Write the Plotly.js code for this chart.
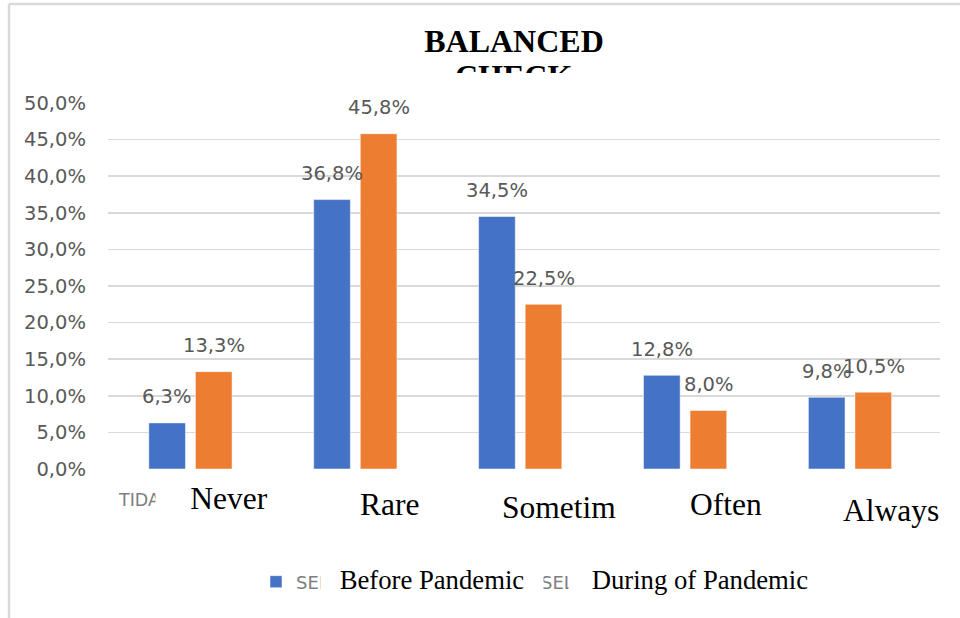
<!DOCTYPE html>
<html><head><meta charset="utf-8">
<script src="https://cdn.plot.ly/plotly-3.0.1.min.js"></script>
<style>html,body{margin:0;padding:0;background:#fff}#chart{width:960px;height:618px}</style>
</head><body><div id="chart"></div>
<script>
// ---- data ----
const categories = ['Never', 'Rare', 'Sometim', 'Often', 'Always'];
const beforeValues = [6.3, 36.8, 34.5, 12.8, 9.8];
const duringValues = [13.3, 45.8, 22.5, 8.0, 10.5];
const seriesNames = ['Before Pandemic', 'During of Pandemic'];
const hiddenSeriesNames = ['SEBELUM PANDEMI', 'SELAMA PANDEMI'];
const hiddenFirstLabel = 'TIDAK PERNAH';
const titleLines = ['BALANCED', 'CHECK'];

// ---- styling ----
const BLUE = '#4472c4', ORANGE = '#ed7d31', GRID = '#d9d9d9', GREY = '#595959';
const SANS = 'DejaVu Sans, sans-serif';
const SERIF = 'Liberation Serif, Times New Roman, serif';
const catLabelShift = [[39, -29.5], [34, -35.5], [39, -38.5], [41, -35.5], [41, -41.5]];
const catBoxWidth = [146, 0, 0, 0, 0];

const fmt = v => v.toFixed(1).replace('.', ',') + '%';

const traces = [
  {type: 'bar', x: categories, y: beforeValues, name: hiddenSeriesNames[0],
   marker: {color: BLUE, line: {color: 'rgba(255,255,255,0.5)', width: 1}}, hoverinfo: 'skip'},
  {type: 'bar', x: categories, y: duringValues, name: hiddenSeriesNames[1],
   marker: {color: ORANGE, line: {color: 'rgba(255,255,255,0.5)', width: 1}}, hoverinfo: 'skip'}
];

const annotations = [];
// data labels
[beforeValues, duringValues].forEach((vals, s) => {
  vals.forEach((v, i) => {
    annotations.push({xref: 'x', yref: 'y', x: categories[i], y: v, text: fmt(v),
      showarrow: false, xanchor: 'center', yanchor: 'middle', xshift: s === 0 ? -23.5 : 23.5, yshift: 26,
      font: {family: SANS, size: 19.5, color: GREY}});
  });
});
// hidden original label fragment
annotations.push({xref: 'paper', yref: 'paper', x: (116 - 108) / 832, y: 0, xanchor: 'left', yanchor: 'middle',
  yshift: -31, showarrow: false, text: hiddenFirstLabel, font: {family: SANS, size: 17.5, color: '#7f7f7f'}});
// category text boxes
categories.forEach((c, i) => {
  const a = {xref: 'x', yref: 'paper', x: c, y: 0, xanchor: 'center', yanchor: 'middle',
    xshift: catLabelShift[i][0], yshift: catLabelShift[i][1], showarrow: false, text: c,
    bgcolor: '#ffffff', borderpad: 0, font: {family: SERIF, size: 31.5, color: '#000000'}};
  if (catBoxWidth[i]) a.width = catBoxWidth[i];
  annotations.push(a);
});
// legend text boxes
annotations.push({xref: 'paper', yref: 'paper', x: (432 - 108) / 832, y: (469 - 580) / 366,
  xanchor: 'center', yanchor: 'middle', showarrow: false, text: seriesNames[0], width: 222, borderpad: 0,
  bgcolor: '#ffffff', font: {family: SERIF, size: 26.7, color: '#000000'}});
annotations.push({xref: 'paper', yref: 'paper', x: (700 - 108) / 832, y: (469 - 580) / 366,
  xanchor: 'center', yanchor: 'middle', showarrow: false, text: seriesNames[1], width: 262, borderpad: 0,
  bgcolor: '#ffffff', font: {family: SERIF, size: 26.7, color: '#000000'}});
// clipped second title line
annotations.push({xref: 'paper', yref: 'paper', x: (513 - 108) / 832, y: (469 - 57) / 366,
  xanchor: 'center', yanchor: 'top', showarrow: false, text: '<b>' + titleLines[1] + '</b>',
  height: 15, valign: 'top', borderpad: 0, font: {family: SERIF, size: 32, color: '#000000'}});

const layout = {
  width: 960, height: 618,
  margin: {l: 108, r: 20, t: 103, b: 149},
  paper_bgcolor: '#ffffff', plot_bgcolor: '#ffffff',
  separators: ',.',
  title: {text: '<b>' + titleLines[0] + '</b>', x: 514 / 960, xanchor: 'center', xref: 'container',
    y: 1 - 41 / 618, yanchor: 'middle', yref: 'container',
    font: {family: SERIF, size: 32, color: '#000000'}},
  barmode: 'group', bargap: 0.435, bargroupgap: 0.213,
  xaxis: {type: 'category', showticklabels: false, showgrid: false, zeroline: false, showline: false, ticks: ''},
  yaxis: {range: [0, 50], dtick: 5, tick0: 0, tickformat: '.1f', ticksuffix: '%',
    showgrid: true, gridcolor: GRID, gridwidth: 1.5, zeroline: false, showline: false, ticks: '',
    ticklabelstandoff: 21, tickfont: {family: SANS, size: 19.5, color: GREY}},
  showlegend: true,
  legend: {orientation: 'h', xref: 'container', yref: 'container', x: 256 / 960, xanchor: 'left',
    y: (618 - 582) / 618, yanchor: 'middle', font: {family: SANS, size: 18, color: '#7f7f7f'},
    entrywidth: 200, entrywidthmode: 'pixels', bgcolor: 'rgba(0,0,0,0)'},
  annotations: annotations,
  shapes: [
    {type: 'line', xref: 'paper', yref: 'paper', x0: (9 - 108) / 832, x1: (960 - 108) / 832,
      y0: (469 - 4) / 366, y1: (469 - 4) / 366, line: {color: GRID, width: 2.5}},
    {type: 'line', xref: 'paper', yref: 'paper', x0: (9 - 108) / 832, x1: (9 - 108) / 832,
      y0: (469 - 4) / 366, y1: (469 - 620) / 366, line: {color: GRID, width: 2.5}}
  ]
};

Plotly.newPlot('chart', traces, layout, {displayModeBar: false, staticPlot: true});
</script>
</body></html>
